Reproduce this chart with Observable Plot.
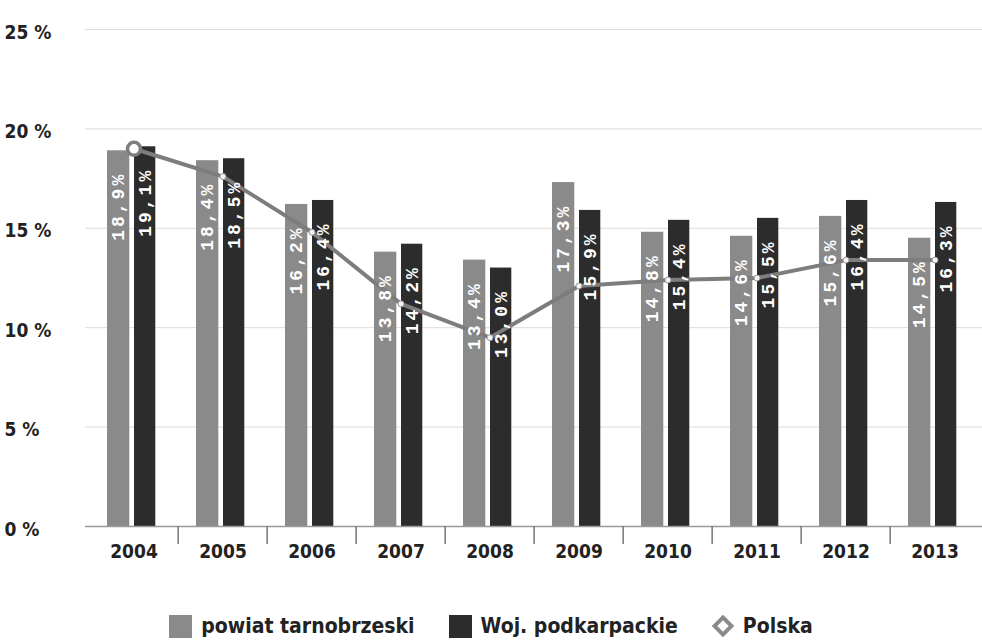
<!DOCTYPE html>
<html><head><meta charset="utf-8">
<script src="https://cdn.jsdelivr.net/npm/d3@7"></script>
<script src="https://cdn.jsdelivr.net/npm/@observablehq/plot@0.6"></script>
<style>
body{margin:0;background:#fff;font-family:"DejaVu Sans Condensed",sans-serif;}
#chart svg{overflow:visible;display:block}
g[aria-label="text"] text{letter-spacing:3px}
.legend{display:flex;justify-content:center;align-items:center;gap:34px;margin-top:34px;font-weight:bold;font-size:21px;color:#222;padding-left:0px}
.legend span{display:inline-flex;align-items:center;gap:9px}
.sw{width:23px;height:23px;display:inline-block}
</style></head><body>
<div id="chart"></div>
<div class="legend">
<span><i class="sw" style="background:#8a8a8a"></i>powiat tarnobrzeski</span>
<span><i class="sw" style="background:#2c2c2c"></i>Woj. podkarpackie</span>
<span><svg width="22" height="22"><rect x="5" y="5" width="12" height="12" transform="rotate(45 11 11)" fill="#fff" stroke="#8a8a8a" stroke-width="4"/></svg>Polska</span>
</div>
<script>
const years = ["2004","2005","2006","2007","2008","2009","2010","2011","2012","2013"];
const powiat = [18.9, 18.4, 16.2, 13.8, 13.4, 17.3, 14.8, 14.6, 15.6, 14.5];
const woj = [19.1, 18.5, 16.4, 14.2, 13.0, 15.9, 15.4, 15.5, 16.4, 16.3];
const polska = [19.0, 17.6, 14.8, 11.2, 9.5, 12.1, 12.4, 12.5, 13.4, 13.4];
const yTicks = [0, 5, 10, 15, 20, 25];

const rowsP = years.map((y, i) => ({year: y, value: powiat[i]}));
const rowsW = years.map((y, i) => ({year: y, value: woj[i]}));
const rowsL = years.map((y, i) => ({year: y, value: polska[i]}));
const fmt = v => v.toFixed(1).replace(".", ",") + "%";
const band = (982 - 85) / years.length;

const chart = Plot.plot({
  width: 982, height: 580,
  marginLeft: 85, marginRight: 0, marginTop: 29, marginBottom: 54,
  style: {fontFamily: "DejaVu Sans Condensed", fontSize: "19px", color: "#222", background: "#fff"},
  x: {domain: years, padding: 0, axis: null, label: null},
  y: {domain: [0, 25], ticks: yTicks, axis: null, label: null},
  marks: [
    Plot.gridY(yTicks.slice(1), {stroke: "#dcdcdc", strokeOpacity: 1, strokeWidth: 1}),
    Plot.axisY(yTicks, {tickSize: 0, textAnchor: "start", dx: -72, dy: 3, tickFormat: d => d + " %", fontWeight: "bold", fill: "#222", label: null}),
    Plot.axisX(years, {tickSize: 0, tickPadding: 18, fontWeight: "bold", fill: "#222", label: null}),
    Plot.barY(rowsP, {x: "year", y: "value", fill: "#8a8a8a", insetLeft: 18, insetRight: band - 41}),
    Plot.barY(rowsW, {x: "year", y: "value", fill: "#2c2c2c", insetLeft: 45, insetRight: band - 67}),
    Plot.ruleY([0], {stroke: "#999", strokeWidth: 1.5}),
    Plot.ruleX(years.slice(1), {x: d => d, dx: -band / 2, y1: 0, y2: -0.9, stroke: "#777", strokeWidth: 1.5}),
    Plot.line(rowsL, {x: "year", y: "value", stroke: "#7d7d7d", strokeWidth: 4}),
    Plot.dot(rowsL.slice(1), {x: "year", y: "value", r: 3, fill: "#f4f4f4", stroke: "#999", strokeWidth: 1}),
    Plot.dot(rowsL.slice(0, 1), {x: "year", y: "value", r: 6.5, fill: "#fff", stroke: "#7d7d7d", strokeWidth: 3.5}),
    Plot.text(rowsP, {x: "year", y: "value", text: d => fmt(d.value), rotate: -90, textAnchor: "end", lineAnchor: "middle", dx: -15.3, dy: 21, fill: "#fff", fontSize: 18, fontWeight: "bold", fontFamily: "Liberation Mono"}),
    Plot.text(rowsW, {x: "year", y: "value", text: d => fmt(d.value), rotate: -90, textAnchor: "end", lineAnchor: "middle", dx: 11.2, dy: 21, fill: "#fff", fontSize: 18, fontWeight: "bold", fontFamily: "Liberation Mono"})
  ]
});
document.getElementById("chart").appendChild(chart);
</script>
</body></html>
